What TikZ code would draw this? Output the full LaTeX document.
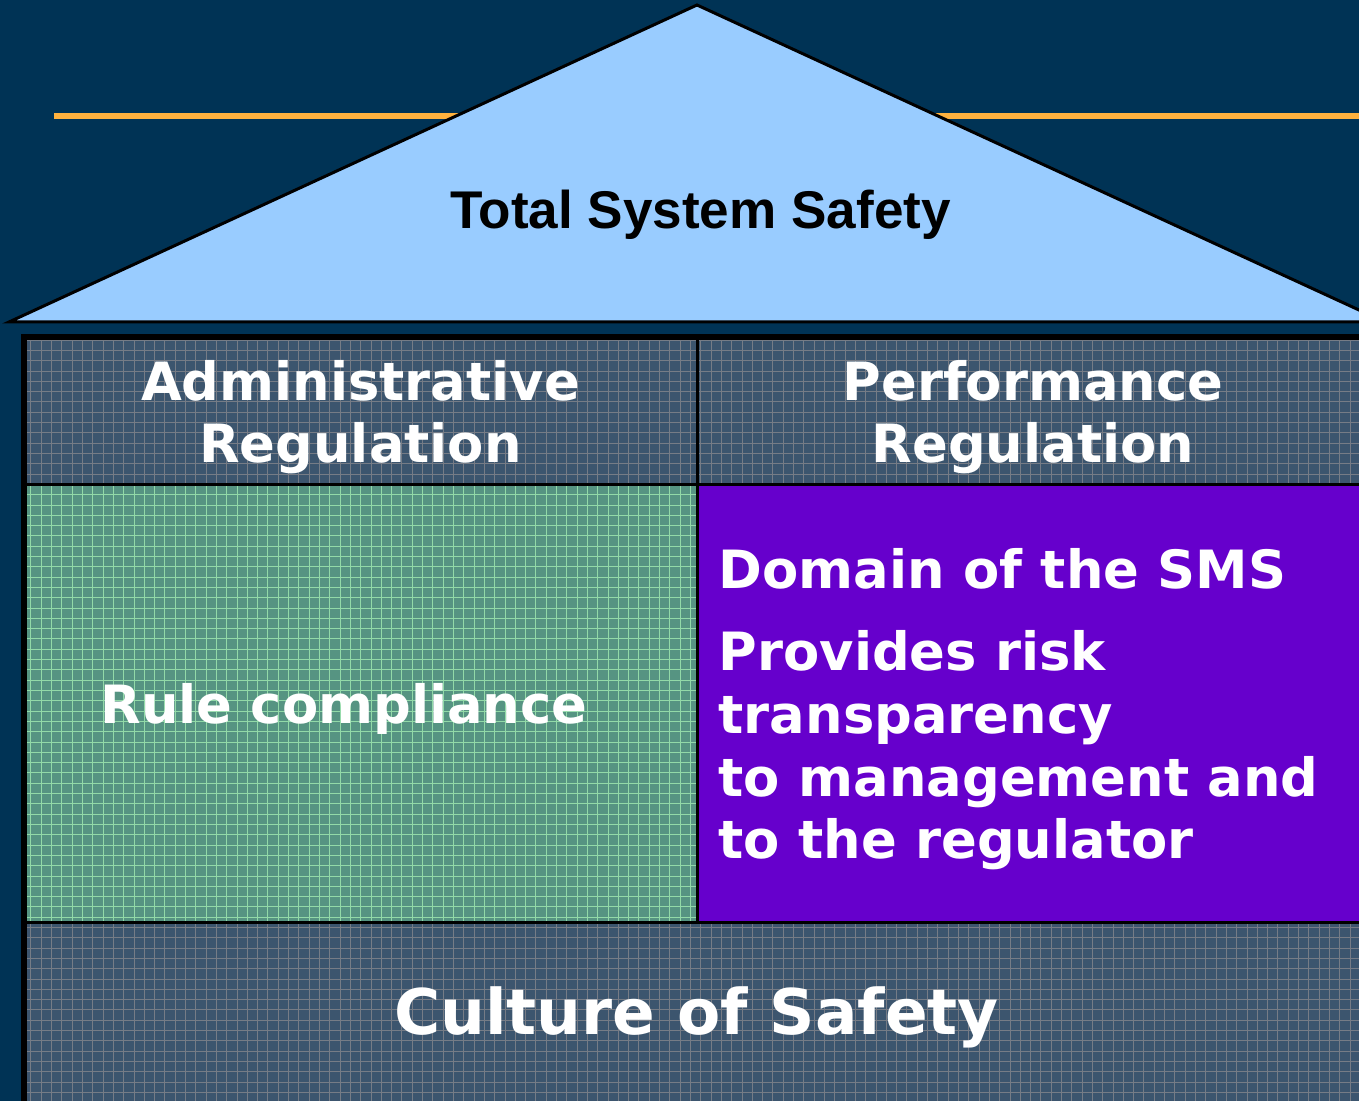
\documentclass[tikz,border=0pt]{standalone}
\usepackage{fontspec}
\setmainfont{DejaVu Sans}
\newfontfamily\arialfont{Liberation Sans}

\definecolor{navy}{RGB}{0,51,85}
\definecolor{roofblue}{RGB}{153,204,255}
\definecolor{ruleorange}{RGB}{255,178,62}
\definecolor{slate}{RGB}{60,85,110}
\definecolor{slateline}{RGB}{118,124,134}
\definecolor{moss}{RGB}{86,148,130}
\definecolor{mossline}{RGB}{146,218,168}
\definecolor{smsviolet}{RGB}{102,0,204}

\tikzset{
  gridlines/.style={line width=0.009cm},
  whitetext/.style={text=white, inner sep=0pt, font=\bfseries\fontsize{15}{17.9}\selectfont},
}

% filled cell with a fine grid over it
\newcommand{\gridcell}[6]{%
  \begin{scope}
    \clip (#3,#4) rectangle (#5,#6);
    \fill[#1] (#3,#4) rectangle (#5,#6);
    \draw[#2, gridlines, step=0.103cm] (#3,#6) grid (#5,#4);
  \end{scope}}

\begin{document}
\begin{tikzpicture}[x=0.01cm,y=-0.01cm]
    \useasboundingbox (0,0) rectangle (1359,1101);
    \clip (0,0) rectangle (1359,1101);
    % Background and orange rule
    \fill[navy] (0,0) rectangle (1359,1101);
    \fill[ruleorange] (54,113) rectangle (1359,119);
    % Roof
    \draw[fill=roofblue, line width=0.03cm, line join=miter] (9,322) -- (697,5) -- (1385,322) -- cycle;
    \node[anchor=base, inner sep=0pt, font=\arialfont\bfseries\fontsize{15.1}{18}\selectfont] (total) at (700.5,229) {Total System Safety};
    % Frame and cells
    \fill[black] (21,334) rectangle (1380,1120);
    \gridcell{slate}{slateline}{27}{340}{696}{483}
    \gridcell{slate}{slateline}{699}{340}{1380}{483}
    \gridcell{moss}{mossline}{27}{486}{696}{921}
    \fill[smsviolet] (699,486) rectangle (1380,921);
    \gridcell{slate}{slateline}{27}{924}{1380}{1120}
    % Labels (base anchor sits on the last line)
    \node[whitetext, anchor=base, align=center] (admin) at (360.5,463) {Administrative\\Regulation};
    \node[whitetext, anchor=base, align=center] (perf) at (1033,463) {Performance\\Regulation};
    \node[whitetext, anchor=base] (rule) at (344,724) {Rule compliance};
    \node[whitetext, anchor=base west, align=left] (sms) at (718,859)
        {Domain of the SMS\\[5.2pt]Provides risk\\transparency\\to management and\\to the regulator};
    \node[whitetext, anchor=base, font=\bfseries\fontsize{17.9}{21}\selectfont] (culture) at (696.5,1035) {Culture of Safety};
\end{tikzpicture}
\end{document}
